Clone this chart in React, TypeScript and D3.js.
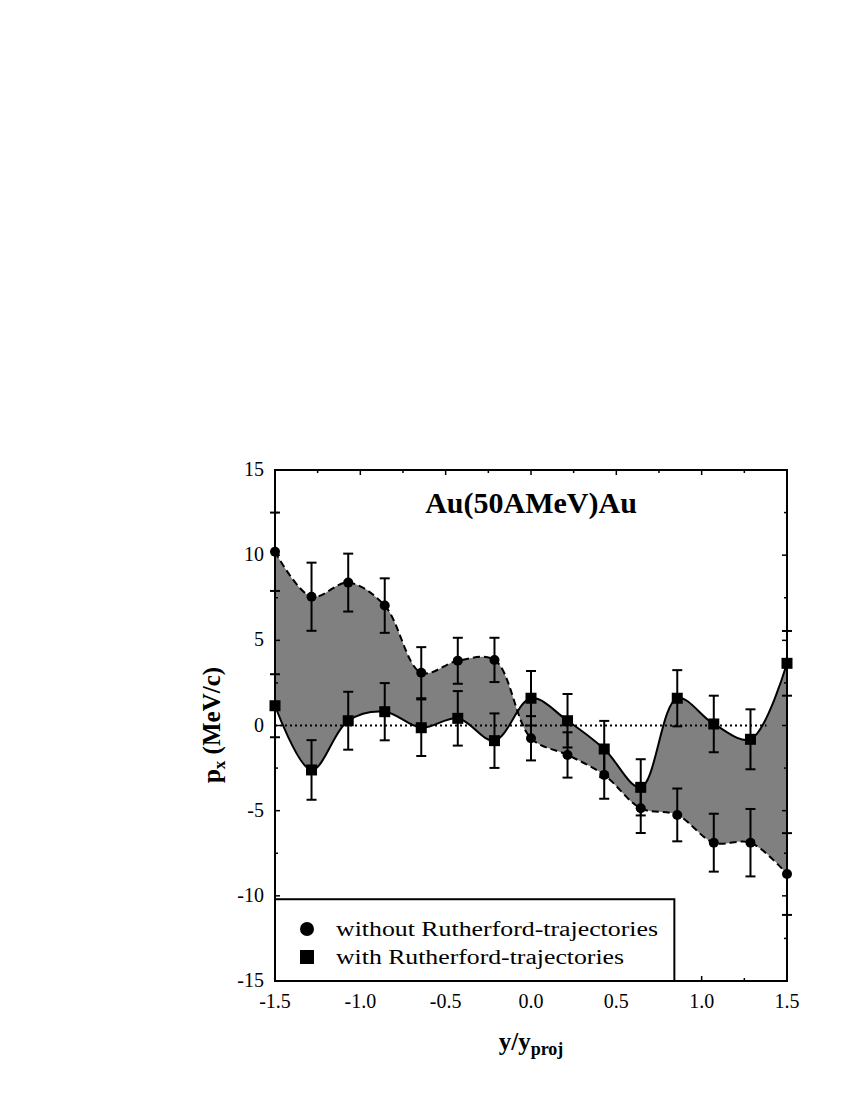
import React from "react";
import * as d3 from "d3";

const xVals = [-1.5, -1.286, -1.071, -0.857, -0.643, -0.429, -0.214, 0.0, 0.214, 0.429, 0.643, 0.857, 1.071, 1.286, 1.5];
const withoutVals = [10.2, 7.56, 8.39, 7.04, 3.1, 3.8, 3.85, -0.75, -1.73, -2.9, -4.86, -5.25, -6.88, -6.88, -8.72];
const withoutErr = [2.3, 2.0, 1.7, 1.6, 1.5, 1.35, 1.3, 1.3, 1.33, 1.4, 1.45, 1.55, 1.7, 1.98, 2.4];
const withVals = [1.16, -2.61, 0.28, 0.81, -0.13, 0.42, -0.89, 1.6, 0.28, -1.38, -3.63, 1.6, 0.09, -0.81, 3.65];
const withErr = [1.85, 1.75, 1.7, 1.68, 1.66, 1.6, 1.6, 1.6, 1.57, 1.65, 1.65, 1.65, 1.66, 1.76, 1.9];

const xTickLabels = ["-1.5", "-1.0", "-0.5", "0.0", "0.5", "1.0", "1.5"];
const yTickLabels = ["15", "10", "5", "0", "-5", "-10", "-15"];

const title = "Au(50AMeV)Au";
const legendLabels = ["without Rutherford-trajectories", "with Rutherford-trajectories"];

export default function App() {
  const left = 275, right = 787, top = 470, bottom = 981;
  const x = d3.scaleLinear().domain([-1.5, 1.5]).range([left, right]);
  const y = d3.scaleLinear().domain([-15, 15]).range([bottom, top]);

  const idx = xVals.map((_, i) => i);
  const curve = d3.curveCatmullRom.alpha(0.5);
  const area = d3
    .area<number>()
    .x((i) => x(xVals[i]))
    .y0((i) => y(withVals[i]))
    .y1((i) => y(withoutVals[i]))
    .curve(curve);
  const lineWithout = d3
    .line<number>()
    .x((i) => x(xVals[i]))
    .y((i) => y(withoutVals[i]))
    .curve(curve);
  const lineWith = d3
    .line<number>()
    .x((i) => x(xVals[i]))
    .y((i) => y(withVals[i]))
    .curve(curve);

  const xMajor = d3.range(-1.5, 1.5001, 0.5);
  const xMinor = d3.range(-1.25, 1.5, 0.5);
  const yMajor = d3.range(-15, 15.001, 5);
  const yMinor = d3.range(-12.5, 15, 5);

  const serif = "'Liberation Serif', 'Times New Roman', serif";
  const capW = 5;

  const ticks: React.ReactNode[] = [];
  xMajor.forEach((v, k) => {
    ticks.push(<line key={"xtM" + k} x1={x(v)} x2={x(v)} y1={top} y2={top + 5} stroke="#000" strokeWidth={1.5} />);
    ticks.push(<line key={"xbM" + k} x1={x(v)} x2={x(v)} y1={bottom} y2={bottom - 5} stroke="#000" strokeWidth={1.5} />);
  });
  xMinor.forEach((v, k) => {
    ticks.push(<line key={"xtm" + k} x1={x(v)} x2={x(v)} y1={top} y2={top + 3} stroke="#000" strokeWidth={1.5} />);
    ticks.push(<line key={"xbm" + k} x1={x(v)} x2={x(v)} y1={bottom} y2={bottom - 3} stroke="#000" strokeWidth={1.5} />);
  });
  yMajor.forEach((v, k) => {
    ticks.push(<line key={"ylM" + k} x1={left} x2={left + 5} y1={y(v)} y2={y(v)} stroke="#000" strokeWidth={1.5} />);
    ticks.push(<line key={"yrM" + k} x1={right} x2={right - 5} y1={y(v)} y2={y(v)} stroke="#000" strokeWidth={1.5} />);
  });
  yMinor.forEach((v, k) => {
    ticks.push(<line key={"ylm" + k} x1={left} x2={left + 3} y1={y(v)} y2={y(v)} stroke="#000" strokeWidth={1.5} />);
    ticks.push(<line key={"yrm" + k} x1={right} x2={right - 3} y1={y(v)} y2={y(v)} stroke="#000" strokeWidth={1.5} />);
  });

  const errBars = (vals: number[], errs: number[], key: string) =>
    idx.map((i) => {
      const cx = x(xVals[i]);
      const yt = y(vals[i] + errs[i]);
      const yb = y(vals[i] - errs[i]);
      return (
        <g key={key + i} stroke="#000" strokeWidth={2}>
          <line x1={cx} x2={cx} y1={yt} y2={yb} />
          <line x1={cx - capW} x2={cx + capW} y1={yt} y2={yt} />
          <line x1={cx - capW} x2={cx + capW} y1={yb} y2={yb} />
        </g>
      );
    });

  const legTop = y(-10.2);
  const legRight = x(0.84);

  return (
    <svg width={850} height={1100} style={{ position: "absolute", left: 0, top: 0, background: "#fff" }}>
      <rect x={0} y={0} width={850} height={1100} fill="#fff" />
      <path d={area(idx) || ""} fill="#808080" stroke="none" />
      <line x1={x(-1.5)} x2={x(1.38)} y1={y(0)} y2={y(0)} stroke="#000" strokeWidth={2} strokeDasharray="2,3" />
      <path d={lineWithout(idx) || ""} fill="none" stroke="#000" strokeWidth={2} strokeDasharray="7,4" />
      <path d={lineWith(idx) || ""} fill="none" stroke="#000" strokeWidth={2} />
      {errBars(withoutVals, withoutErr, "ew")}
      {errBars(withVals, withErr, "es")}
      {idx.map((i) => (
        <circle key={"c" + i} cx={x(xVals[i])} cy={y(withoutVals[i])} r={5} fill="#000" />
      ))}
      {idx.map((i) => (
        <rect key={"s" + i} x={x(xVals[i]) - 5.5} y={y(withVals[i]) - 5.5} width={11} height={11} fill="#000" />
      ))}
      {ticks}
      <rect x={left} y={top} width={right - left} height={bottom - top} fill="none" stroke="#000" strokeWidth={2} />
      <rect x={left} y={legTop} width={legRight - left} height={bottom - legTop} fill="#fff" stroke="#000" strokeWidth={2} />
      <circle cx={307} cy={929} r={7} fill="#000" />
      <rect x={300} y={950} width={14} height={14} fill="#000" />
      <text x={336} y={936} fontFamily={serif} fontSize={20} textLength={322} lengthAdjust="spacingAndGlyphs">{legendLabels[0]}</text>
      <text x={336} y={964} fontFamily={serif} fontSize={20} textLength={288} lengthAdjust="spacingAndGlyphs">{legendLabels[1]}</text>
      <text x={531} y={513} fontFamily={serif} fontSize={30} fontWeight="bold" textAnchor="middle">{title}</text>
      {xTickLabels.map((t, k) => (
        <text key={"xl" + k} x={x(xMajor[k])} y={1008} fontFamily={serif} fontSize={20} textAnchor="middle">{t}</text>
      ))}
      {yTickLabels.map((t, k) => (
        <text key={"yl" + k} x={264} y={y(15 - 5 * k) + 6} fontFamily={serif} fontSize={20} textAnchor="end">{t}</text>
      ))}
      <text transform="translate(220,725) rotate(-90)" fontFamily={serif} fontSize={25} fontWeight="bold" textAnchor="middle">
        p<tspan fontSize={17} dy={5}>x</tspan><tspan dy={-5}> (MeV/c)</tspan>
      </text>
      <text x={531} y={1050} fontFamily={serif} fontSize={25} fontWeight="bold" textAnchor="middle">
        y/y<tspan fontSize={18} dy={5}>proj</tspan>
      </text>
    </svg>
  );
}
